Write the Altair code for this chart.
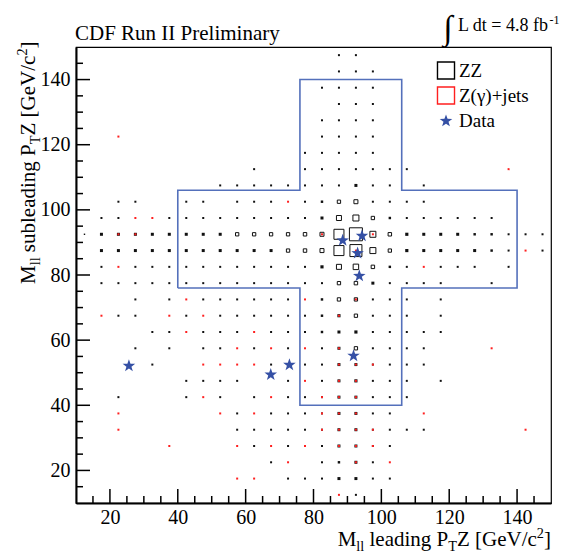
import altair as alt
import pandas as pd

# ---------------- data ----------------
BIN_CENTERS = [12.5, 17.5, 22.5, 27.5, 32.5, 37.5, 42.5, 47.5, 52.5, 57.5, 62.5, 67.5, 72.5, 77.5,
               82.5, 87.5, 92.5, 97.5, 102.5, 107.5, 112.5, 117.5, 122.5, 127.5, 132.5, 137.5, 142.5, 147.5]
ROW_CENTERS = [147.5, 142.5, 137.5, 132.5, 127.5, 122.5, 117.5, 112.5, 107.5, 102.5, 97.5, 92.5, 87.5, 82.5,
               77.5, 72.5, 67.5, 62.5, 57.5, 52.5, 47.5, 42.5, 37.5, 32.5, 27.5, 22.5, 17.5, 12.5]

# ZZ expected content per (row, column) bin, rows from top (147.5) to bottom (12.5)
ZZ_CONTENT = [
    [0,0,0,0,0,0,0,0,0,0,0,0,0,0,0,.04,.04,0,0,0,0,0,0,0,0,0,0,0],
    [0,0,0,0,0,0,0,0,0,0,0,0,0,0,0,.04,.04,.04,0,0,0,0,0,0,0,0,0,0],
    [0,0,0,0,0,0,0,0,0,0,0,0,0,0,.04,.04,.04,.04,0,0,0,0,0,0,0,0,0,0],
    [0,0,0,0,0,0,0,0,0,0,0,0,0,0,0,.04,.04,.04,0,0,0,0,0,0,0,0,0,0],
    [0,0,0,0,0,0,0,0,0,0,0,0,0,0,.04,.04,.04,.04,0,0,0,0,0,0,0,0,0,0],
    [0,0,0,0,0,0,0,0,0,0,0,0,0,0,.04,.04,.04,.04,0,0,0,0,0,0,0,0,0,0],
    [0,0,0,0,0,0,0,0,0,0,0,0,0,.04,.04,.04,.04,.04,0,0,0,0,0,0,0,0,0,0],
    [0,0,0,0,0,0,0,0,0,0,.04,0,0,.04,.04,.04,.04,.04,.04,.04,0,0,0,0,0,0,0,0],
    [0,0,0,0,0,0,0,0,.04,.04,.04,.04,.04,.04,.04,.04,.09,.04,.04,0,.04,0,0,0,0,0,0,0],
    [0,0,.04,.04,0,0,.04,.04,0,.04,.04,.04,0,.04,.06,.11,.16,.04,.04,.04,.04,0,0,0,0,0,0,0],
    [0,.04,.04,0,0,.04,.04,.04,.04,.04,.04,.04,.04,.04,.09,.25,.36,.11,.06,.04,.04,.04,.04,.04,.04,0,0,0],
    [.02,.09,.09,.09,.09,.09,.09,.09,.09,.11,.11,.11,.11,.12,.16,1.0,1.69,.36,.12,.10,.09,.09,.09,.06,.06,.04,.04,.04],
    [0,.09,.09,.09,.09,.09,.09,.09,.09,.09,.09,.09,.11,.12,.16,1.0,1.44,.36,.11,.10,.09,.09,.09,.09,.06,.04,0,.04],
    [0,.04,0,.04,.04,.04,.04,.04,.04,.04,.04,.04,.04,.04,.10,.25,.3,.12,.06,.04,0,.04,.04,.04,0,.04,0,0],
    [0,.04,.04,.04,.04,.04,.04,.04,.04,.04,.04,.04,.04,.04,.04,.11,.12,.09,.04,.04,.04,.04,0,0,.04,0,0,0],
    [0,0,0,.04,0,.04,0,.04,.04,.04,.04,.04,.04,0,.06,.11,.11,.04,.04,.04,0,.04,0,0,0,0,0,0],
    [0,0,.04,.04,0,0,.04,0,.04,.04,.04,.04,.04,.04,.06,.10,.11,.04,.04,.04,0,.04,0,0,0,0,0,0],
    [0,0,0,0,.04,.04,0,.04,.04,.04,0,.04,.04,.04,.06,.09,.10,.04,.04,.04,.04,.04,0,0,0,0,0,0],
    [0,0,0,.04,0,.04,0,.04,.04,0,.04,0,.04,0,.04,.09,.11,.04,.04,.04,.04,0,0,0,0,0,0,0],
    [0,0,0,0,.04,0,0,0,0,0,0,.04,0,.04,.04,.09,.09,.04,.04,.04,.04,0,0,0,0,0,0,0],
    [0,0,0,0,0,0,.04,.04,.04,.04,0,0,.04,0,.04,.09,.10,.04,.04,.04,0,.04,0,0,0,0,0,0],
    [0,0,.04,0,0,0,.04,0,.04,0,.04,0,.04,.04,.04,.09,.09,.04,.04,.04,0,0,0,0,0,0,0,0],
    [0,0,0,0,0,0,0,0,0,.04,0,.04,.04,.04,.04,.09,.09,.04,.04,0,0,0,0,0,0,0,0,0],
    [0,0,0,0,0,0,0,0,0,.04,.04,.04,.04,.04,.04,.09,.09,.04,.04,.04,.04,0,0,0,0,0,0,0],
    [0,0,0,0,0,0,0,0,0,0,.04,0,.04,0,.04,.09,.09,.04,.04,0,0,0,0,0,0,0,0,0],
    [0,0,0,0,0,0,0,0,0,0,0,.04,0,0,.04,.06,.09,.04,0,0,0,0,0,0,0,0,0,0],
    [0,0,0,0,0,0,0,0,0,0,0,0,.04,.04,.04,.09,.09,.04,.04,0,0,0,0,0,0,0,0,0],
    [0,0,0,0,0,0,0,0,0,0,0,0,0,0,0,0,.04,0,0,0,0,0,0,0,0,0,0,0],
]

# Z(gamma)+jets bins (centres) and content
ZJETS_X = [22.5, 137.5, 72.5, 27.5, 32.5, 22.5, 27.5, 82.5, 97.5, 92.5, 142.5, 22.5, 112.5,
           42.5, 77.5, 92.5, 17.5, 37.5, 47.5, 87.5, 42.5, 62.5, 57.5, 67.5, 77.5, 87.5, 132.5,
           47.5, 52.5, 57.5, 62.5, 87.5, 92.5, 97.5, 77.5, 87.5, 92.5, 47.5, 67.5, 82.5, 87.5, 92.5,
           22.5, 52.5, 62.5, 82.5, 87.5, 92.5, 112.5, 22.5, 82.5, 87.5, 92.5, 97.5, 142.5,
           37.5, 57.5, 67.5, 77.5, 87.5, 92.5, 97.5, 72.5, 92.5, 102.5, 57.5, 62.5, 87.5]
ZJETS_Y = [122.5, 112.5, 102.5, 97.5, 97.5, 92.5, 92.5, 92.5, 92.5, 87.5, 87.5, 82.5, 82.5,
           72.5, 72.5, 72.5, 67.5, 67.5, 67.5, 67.5, 62.5, 62.5, 57.5, 57.5, 57.5, 57.5, 57.5,
           52.5, 52.5, 52.5, 52.5, 52.5, 52.5, 52.5, 47.5, 47.5, 47.5, 42.5, 42.5, 42.5, 42.5, 42.5,
           37.5, 37.5, 37.5, 37.5, 37.5, 37.5, 37.5, 32.5, 32.5, 32.5, 32.5, 32.5, 32.5,
           27.5, 27.5, 27.5, 27.5, 27.5, 27.5, 27.5, 22.5, 22.5, 22.5, 17.5, 17.5, 12.5]
ZJETS_W = [0.04] * len(ZJETS_X)

# observed events
DATA_X = [25.6, 67.4, 72.9, 91.8, 93.5, 93.0, 94.3, 88.6]
DATA_Y = [52.1, 49.4, 52.4, 55.2, 79.7, 86.7, 92.0, 90.6]

# signal-region cross outline
CROSS_X = [40, 40, 76, 76, 106, 106, 140, 140, 106, 106, 76, 76, 40]
CROSS_Y = [76, 106, 106, 140, 140, 106, 106, 76, 76, 40, 40, 76, 76]

MAJOR_TICKS = [20, 40, 60, 80, 100, 120, 140]
MINOR_TICKS = [15, 25, 30, 35, 45, 50, 55, 65, 70, 75, 85, 90, 95, 105, 110, 115, 125, 130, 135, 145]

# ---------------- chart ----------------
W, H = 475, 456
FONT = "Liberation Serif"
BLUE_LINE = "#5470bb"
STAR_BLUE = "#3550a5"
RED = "#ff1f1f"
STAR_PATH = ("M0,-1L0.235,-0.324L0.951,-0.309L0.380,0.124L0.588,0.809L0,0.4"
             "L-0.588,0.809L-0.380,0.124L-0.951,-0.309L-0.235,-0.324Z")

zz_records = []
for yc, row in zip(ROW_CENTERS, ZZ_CONTENT):
    for xc, v in zip(BIN_CENTERS, row):
        if v > 0:
            zz_records.append({"x": xc, "y": yc, "w": v})
zz_df = pd.DataFrame(zz_records)
zz_small = zz_df[zz_df["w"] <= 0.10]
zz_big = zz_df[zz_df["w"] > 0.10]
zj_df = pd.DataFrame({"x": ZJETS_X, "y": ZJETS_Y, "w": ZJETS_W})
data_df = pd.DataFrame({"x": DATA_X, "y": DATA_Y})
cross_df = pd.DataFrame({"x": CROSS_X, "y": CROSS_Y, "o": list(range(len(CROSS_X)))})

xs = alt.Scale(domain=[10, 150], nice=False, zero=False)
ys = alt.Scale(domain=[10, 150], nice=False, zero=False)
size_scale = alt.Scale(domain=[0, 1.69], range=[0, 169])

x_axis = alt.Axis(values=MAJOR_TICKS, ticks=False, domain=True, domainColor="black", domainWidth=2,
                  grid=False, labelFont=FONT, labelFontSize=20, labelColor="black", labelPadding=4,
                  title=None, labelFlush=False)
y_axis = alt.Axis(values=MAJOR_TICKS, ticks=False, domain=True, domainColor="black", domainWidth=2,
                  grid=False, labelFont=FONT, labelFontSize=20, labelColor="black", labelPadding=6,
                  title=None, labelFlush=False)

def X(): return alt.X("x:Q", scale=xs, axis=x_axis)
def Y(): return alt.Y("y:Q", scale=ys, axis=y_axis)
def S(): return alt.Size("w:Q", scale=size_scale, legend=None)

zz_fill = alt.Chart(zz_small).mark_point(shape="square", filled=True, color="#111111", strokeWidth=0,
                                         opacity=1).encode(x=X(), y=Y(), size=S())
zz_open = alt.Chart(zz_big).mark_point(shape="square", filled=False, stroke="#111111", strokeWidth=1,
                                       opacity=1).encode(x=X(), y=Y(), size=S())
zj = alt.Chart(zj_df).mark_point(shape="square", filled=True, color=RED, strokeWidth=0, opacity=1).encode(
    x=X(), y=Y(), size=S())
cross = alt.Chart(cross_df).mark_line(color=BLUE_LINE, strokeWidth=1.6).encode(
    x=X(), y=Y(), order="o:Q")
stars = alt.Chart(data_df).mark_point(shape=STAR_PATH, filled=True, color=STAR_BLUE, size=175,
                                      opacity=1, strokeWidth=0).encode(x=X(), y=Y())

def tick_layers(values, length):
    d = pd.DataFrame({"x": values, "y": values})
    xt = alt.Chart(d).mark_rule(color="black", strokeWidth=1.5).encode(
        x=X(), y=alt.value(H), y2=alt.value(H - length))
    yt = alt.Chart(d).mark_rule(color="black", strokeWidth=1.5).encode(
        y=Y(), x=alt.value(0), x2=alt.value(length))
    return [xt, yt]

ticks = tick_layers(MAJOR_TICKS, 14) + tick_layers(MINOR_TICKS, 7)

ONE = pd.DataFrame({"a": [0]})

def label(text, x, y, size, align="left", baseline="alphabetic", angle=0, color="black", font=FONT):
    return alt.Chart(ONE).mark_text(text=text, align=align, baseline=baseline, font=font,
                                    fontSize=size, angle=angle, color=color).encode(
        x=alt.value(x), y=alt.value(y))

TNR = {' ': 250, 'M': 889, 'l': 278, 'e': 444, 'a': 444, 'd': 500, 'i': 278, 'n': 500, 'g': 500,
       'P': 556, 'T': 611, 'Z': 611, '[': 333, 'G': 722, 'V': 722, '/': 278, 'c': 444, '2': 500,
       ']': 333, 's': 389, 'u': 500, 'b': 500}

def rich(pieces, size, x0, y0, vertical=False):
    layers, pos = [], 0.0
    for txt, kind in pieces:
        fs = size if kind == "n" else size * 0.68
        off = {"n": 0, "sub": 0.25 * size, "sup": -0.38 * size}[kind]
        lead = (len(txt) - len(txt.lstrip(" "))) * 0.25 * fs
        p = pos + lead
        if vertical:
            layers.append(label(txt.strip(" "), x0 + off, y0 - p, fs, angle=270))
        else:
            layers.append(label(txt.strip(" "), x0 + p, y0 + off, fs))
        pos += sum(TNR[c] for c in txt) / 1000 * fs
    return layers, pos

def rich_width(pieces, size):
    return sum(sum(TNR[c] for c in t) / 1000 * (size if k == "n" else size * 0.68) for t, k in pieces)

TSIZE = 21
x_pieces = [("M", "n"), ("ll", "sub"), (" leading P", "n"), ("T", "sub"), ("Z [GeV/c", "n"), ("2", "sup"), ("]", "n")]
y_pieces = [("M", "n"), ("ll", "sub"), (" subleading P", "n"), ("T", "sub"), ("Z [GeV/c", "n"), ("2", "sup"), ("]", "n")]
xw = rich_width(x_pieces, TSIZE)
x_title, _ = rich(x_pieces, TSIZE, W - xw, 499)
y_title, _ = rich(y_pieces, TSIZE, -41, 237, vertical=True)

texts = [
    label("CDF Run II Preliminary", -1, -7, 21),
    label("\u222b", 372, -8, 34, align="center"),
    label("L dt = 4.8 fb", 382, -16, 18),
    label("-1", 473.5, -23, 12),
    label("ZZ", 383, 24, 19, baseline="middle"),
    label("Z(\u03b3)+jets", 383, 49, 19, baseline="middle"),
    label("Data", 383, 74, 19, baseline="middle"),
]

legend_marks = [
    alt.Chart(ONE).mark_point(shape="square", filled=False, stroke="black", strokeWidth=1.4, size=290, opacity=1).encode(
        x=alt.value(370), y=alt.value(23.5)),
    alt.Chart(ONE).mark_point(shape="square", filled=False, stroke=RED, strokeWidth=1.4, size=290, opacity=1).encode(
        x=alt.value(370), y=alt.value(48.5)),
    alt.Chart(ONE).mark_point(shape=STAR_PATH, filled=True, color=STAR_BLUE, size=175, opacity=1,
                              strokeWidth=0).encode(x=alt.value(370), y=alt.value(74)),
]

chart = alt.layer(zz_fill, zz_open, zj, cross, stars, *ticks, *x_title, *y_title, *texts, *legend_marks).properties(
    width=W, height=H,
    padding={"left": 68, "top": 39, "right": 12, "bottom": 52},
    autosize="none",
    background="white",
).configure_view(stroke="black", strokeWidth=1.2)

chart.save("out.html", embed_options={"renderer": "svg", "actions": False})
